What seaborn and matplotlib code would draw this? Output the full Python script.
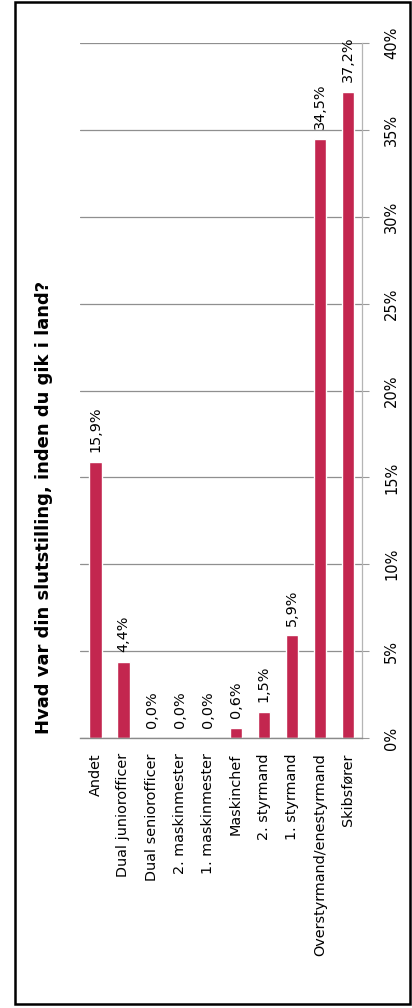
import matplotlib
matplotlib.use("Agg")
import matplotlib.pyplot as plt
import seaborn as sns
import pandas as pd
from matplotlib.patches import Rectangle
from matplotlib.ticker import FuncFormatter

categories = [
    "Andet",
    "Dual juniorofficer",
    "Dual seniorofficer",
    "2. maskinmester",
    "1. maskinmester",
    "Maskinchef",
    "2. styrmand",
    "1. styrmand",
    "Overstyrmand/enestyrmand",
    "Skibsfører",
]
values = [15.9, 4.4, 0.0, 0.0, 0.0, 0.6, 1.5, 5.9, 34.5, 37.2]
value_ticks = [0, 5, 10, 15, 20, 25, 30, 35, 40]
title = "Hvad var din slutstilling, inden du gik i land?"

bar_color = "#c3264f"

sns.set_theme(style="white")
plt.rcParams["font.family"] = ["DejaVu Sans"]
plt.rcParams["text.color"] = "black"
plt.rcParams["xtick.color"] = "black"
plt.rcParams["ytick.color"] = "black"

W, H = 412, 1008
fig = plt.figure(figsize=(W / 100, H / 100), dpi=100)
fig.patch.set_facecolor("white")

ax = fig.add_axes([80 / W, 1 - 738 / H, (362 - 80) / W, (738 - 43) / H])

df = pd.DataFrame({"stilling": categories, "andel": values})
sns.barplot(data=df, x="stilling", y="andel", color=bar_color, width=0.44,
            saturation=1, ax=ax)

ax.set_xlim(-0.55, len(categories) - 0.5)
ax.set_ylim(0, 40)
ax.set_xlabel("")
ax.set_ylabel("")

# value axis on the right with rotated percentage labels
ax.yaxis.tick_right()
ax.set_yticks(value_ticks)
ax.yaxis.set_major_formatter(FuncFormatter(lambda v, _: f"{v:.0f}%"))
ax.tick_params(axis="y", which="major", length=5, width=0.8, color="#999999",
               pad=11, labelsize=10.5, labelrotation=90, right=True, left=False,
               labelcolor="black")
for lab in ax.get_yticklabels():
    lab.set_va("center")
ax.yaxis.grid(True, color="#8f8f8f", linewidth=0.9)
ax.set_axisbelow(True)

# category labels read bottom-to-top under the bars
ax.set_xticks(range(len(categories)))
ax.set_xticklabels(categories, rotation=90, ha="center", va="top", fontsize=10.4,
                   color="black")
ax.tick_params(axis="x", length=0, pad=11)

for side in ["top", "left"]:
    ax.spines[side].set_visible(False)
ax.spines["right"].set_color("#b5b5b5")
ax.spines["right"].set_linewidth(0.9)
ax.spines["bottom"].set_color("#8a8a8a")
ax.spines["bottom"].set_linewidth(1.0)

# value annotations above each bar
for i, v in enumerate(values):
    ax.annotate(f"{v:.1f}%".replace(".", ","), xy=(i, v), xytext=(0, 7),
                textcoords="offset points", rotation=90, ha="center",
                va="bottom", fontsize=10.4, color="black", annotation_clip=False)

fig.text(44 / W, 1 - 507 / H, title, rotation=90, ha="center", va="center",
         fontsize=13, fontweight="bold", color="black")

# outer frame
fig.patches.append(Rectangle((15 / W, 1 - 1004 / H), (410 - 15) / W, (1004 - 2) / H,
                             transform=fig.transFigure, fill=False,
                             edgecolor="black", linewidth=1.8))

fig.savefig("out.png", dpi=100)
